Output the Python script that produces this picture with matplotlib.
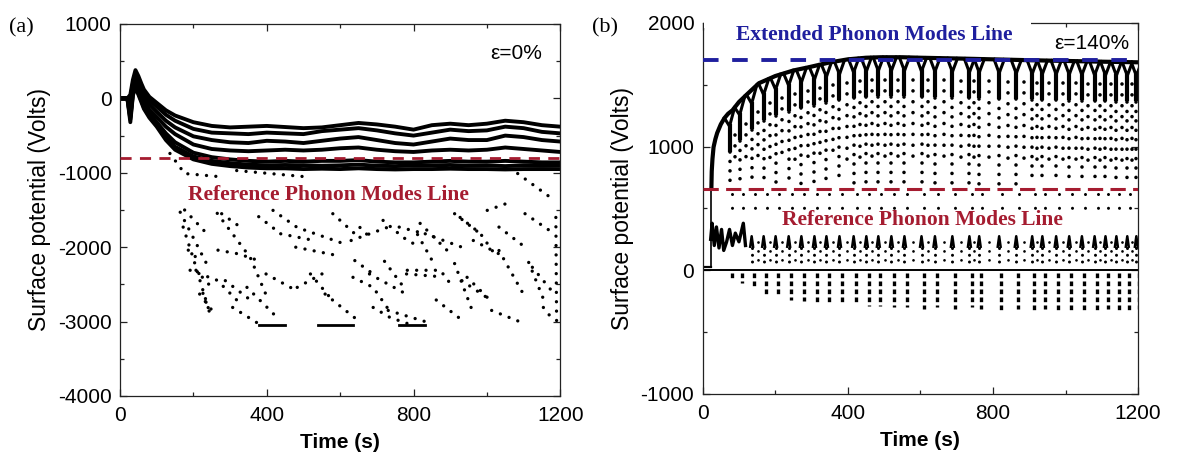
import matplotlib.pyplot as plt
import numpy as np
from matplotlib.patches import Rectangle
from matplotlib.ticker import MultipleLocator

plt.rcParams["font.family"] = ["Liberation Sans", "DejaVu Sans"]
plt.rcParams["axes.unicode_minus"] = False

RED = "#a51c30"
BLUE = "#1f1f9e"
SERIF = ["Liberation Serif", "DejaVu Serif"]

# -------------------- Panel (a): strain 0 % -------------------- #

a_time = [0, 20, 28, 35, 42, 50, 58, 65, 80, 100, 125, 150, 200, 250, 300,
          350, 400, 450, 500, 550, 600, 650, 700, 750, 800, 850, 900, 950,
          1000, 1050, 1100, 1150, 1200]
a_trace1 = [0, 0, 50, 250, 380, 300, 200, 120, 20, -60, -160, -230, -320,
            -370, -390, -380, -370, -385, -400, -390, -360, -330, -350, -380,
            -420, -360, -340, -360, -340, -300, -320, -360, -380]
a_trace2 = [0, 0, 0, 200, 320, 260, 150, 80, -20, -110, -220, -300, -410,
            -460, -470, -480, -460, -470, -480, -440, -420, -400, -430, -470,
            -500, -460, -420, -440, -430, -380, -400, -450, -470]
a_trace3 = [0, 0, -80, 150, 280, 200, 100, 20, -80, -180, -300, -390, -510,
            -560, -590, -600, -570, -580, -600, -570, -540, -520, -560, -600,
            -620, -580, -540, -560, -560, -500, -520, -560, -580]
a_trace4 = [0, 0, -150, 120, 240, 150, 50, -40, -150, -250, -380, -480, -620,
            -680, -700, -710, -700, -690, -700, -690, -670, -660, -690, -710,
            -720, -700, -690, -700, -690, -660, -680, -700, -720]
a_trace5 = [0, 0, -250, 80, 200, 100, 0, -90, -200, -320, -470, -590, -730,
            -790, -820, -840, -850, -840, -850, -840, -840, -830, -850, -860,
            -860, -850, -840, -850, -850, -840, -850, -860, -860]
a_trace6 = [0, 0, -280, 60, 170, 70, -30, -120, -240, -360, -520, -650, -780,
            -840, -870, -890, -900, -895, -900, -905, -900, -890, -905, -910,
            -900, -900, -895, -905, -900, -910, -900, -905, -900]
a_trace7 = [0, 0, -320, 40, 150, 50, -50, -140, -260, -380, -560, -690, -820,
            -880, -910, -930, -940, -940, -950, -945, -950, -940, -950, -955,
            -950, -950, -945, -950, -950, -955, -950, -950, -950]
a_ref_level = -800

# sparse sampled points left behind by the fast oscillations
a_dot_streaks = [
    [(136, -740), (176, -1010), (267, -1050)],
    [(318, -970), (499, -1050)],
    [(164, -1530), (245, -2310)],
    [(172, -1730), (199, -2140), (245, -2890)],
    [(265, -1545), (355, -2140), (401, -2675)],
    [(417, -1505), (483, -1735), (608, -1950)],
    [(191, -2310), (265, -2445), (319, -2715)],
    [(346, -2540), (401, -2810), (428, -2945)],
    [(226, -2620), (245, -2890)],
    [(483, -2540), (554, -2350)],
    [(654, -1735), (690, -1910)],
    [(717, -1640), (772, -1870), (818, -2005)],
    [(818, -1680), (892, -2045)],
    [(927, -1600), (982, -1815), (1028, -2140)],
    [(1001, -1505), (1055, -1410)],
    [(635, -2405), (690, -2540), (728, -2810)],
    [(783, -2310), (873, -2310), (908, -2540)],
    [(946, -2405), (990, -2620), (1017, -2755)],
    [(690, -2810), (736, -2945), (783, -3025)],
    [(1084, -1010), (1184, -1370)],
    [(1188, -1600), (1190, -2985)],
    [(1033, -2045), (1104, -2670)],
    [(912, -2220), (963, -2890)],
    [(1114, -2205), (1154, -2695)],
    [(811, -1830), (852, -2190)],
    [(721, -2190), (781, -2590)],
    [(862, -2710), (932, -2980)],
    [(176, -1500), (237, -1820)],
    [(186, -2040), (217, -2180)],
    [(207, -2310), (257, -2580)],
    [(217, -2630), (257, -2890)],
    [(277, -1550), (328, -1730)],
    [(267, -2040), (323, -2090), (378, -2180)],
    [(287, -2450), (358, -2720)],
    [(307, -2810), (378, -3030)],
    [(378, -1590), (438, -1820)],
    [(398, -2360), (479, -2580)],
    [(438, -1820), (529, -1910)],
    [(479, -2000), (580, -2100)],
    [(519, -2360), (580, -2720)],
    [(559, -2630), (640, -2950)],
    [(580, -1550), (640, -1820)],
    [(630, -1910), (731, -1730)],
    [(640, -2180), (690, -2360)],
    [(680, -2360), (780, -2630)],
    [(731, -2850), (832, -3000)],
    [(761, -1730), (832, -1820)],
    [(781, -2360), (882, -2400)],
    [(832, -1820), (932, -2000)],
    [(912, -1550), (982, -1820)],
    [(932, -2450), (1013, -2720)],
    [(963, -1910), (1033, -2090)],
    [(1013, -2850), (1104, -3030)],
    [(1033, -1730), (1104, -2000)],
    [(1104, -1550), (1184, -1820)],
    [(1124, -2270), (1184, -2630)],
    [(1154, -2810), (1184, -3000)],
]
a_floor_runs = [(378, 449), (539, 635), (761, 832)]
a_floor_level = -3050

# -------------------- Panel (b): strain 140 % -------------------- #

b_env_time = [24, 25, 27, 30, 35, 40, 50, 60, 70, 82, 100, 125, 155, 200,
              250, 292, 350, 400, 450, 491, 550, 600, 700, 800, 900, 1000,
              1100, 1200]
b_env_volt = [660, 800, 900, 995, 1060, 1110, 1180, 1230, 1265, 1293, 1360,
              1430, 1512, 1570, 1615, 1641, 1680, 1705, 1718, 1722, 1722,
              1718, 1712, 1705, 1698, 1692, 1686, 1681]
b_notch_time = [74, 102, 135, 168, 201, 237, 272, 308, 341, 377, 416, 451,
                484, 520, 556, 603, 640, 688, 735, 762, 817, 864, 908, 936,
                974, 1010, 1045, 1080, 1110, 1140, 1170, 1195]
b_trough_volt = [-60, -100, -150, -190, -220, -240, -250, -260, -270, -280,
                 -280, -290, -290, -300, -300, -310, -300, -310, -300, -310,
                 -320, -310, -320, -310, -320, -320, -320, -330, -310, -320,
                 -320, -310]
b_early_time = [22, 26, 32, 38, 45, 52, 58, 66, 74, 82, 90, 100, 112, 118]
b_early_volt = [250, 380, 200, 350, 180, 330, 160, 230, 330, 200, 300, 230,
                380, 200]
b_ext_level = 1700
b_ref_level = 660


def dotted(ax, t, v, gap=2.6, lw=2.6, **kw):
    ax.plot(t, v, color="k", lw=lw, ls=(0, (0.01, gap)),
            dash_capstyle="round", **kw)


def style_axes(ax, ymin, ymax):
    ax.set_xlim(0, 1200)
    ax.set_ylim(ymin, ymax)
    ax.xaxis.set_major_locator(MultipleLocator(400))
    ax.xaxis.set_minor_locator(MultipleLocator(200))
    ax.yaxis.set_major_locator(MultipleLocator(1000))
    ax.yaxis.set_minor_locator(MultipleLocator(500))
    ax.tick_params(which="both", direction="in", top=True, right=True,
                   labelsize=15, color="#222222", width=0.9)
    ax.tick_params(which="major", length=5)
    ax.tick_params(which="minor", length=3)
    ax.tick_params(axis="x", pad=7)
    ax.tick_params(axis="y", pad=6)
    for sp in ax.spines.values():
        sp.set_linewidth(0.9)
        sp.set_color("#222222")
    ax.set_xlabel("Time (s)", fontsize=15, fontweight="bold", labelpad=6)
    ax.set_ylabel("Surface potential (Volts)", fontsize=16.5, labelpad=5)


fig = plt.figure(figsize=(11.77, 4.57), dpi=100)
ax_a = fig.add_axes([0.102, 0.1335, 0.374, 0.814])
ax_b = fig.add_axes([0.597, 0.138, 0.370, 0.812])

# ---- panel (a) ----
for trace in [a_trace1, a_trace2, a_trace3, a_trace4, a_trace5, a_trace6,
              a_trace7]:
    ax_a.plot(a_time, trace, color="k", lw=2.8, solid_joinstyle="round")
for streak in a_dot_streaks:
    ts, vs = zip(*streak)
    dotted(ax_a, ts, vs, gap=2.8, lw=2.4)
for t0, t1 in a_floor_runs:
    ax_a.plot([t0, t1], [a_floor_level, a_floor_level], color="k", lw=2.0)
ax_a.axhline(a_ref_level, color=RED, lw=2.0, dashes=(4, 3), zorder=5)
ax_a.text(567, -1300, "Reference Phonon Modes Line", color=RED,
          family=SERIF, fontweight="bold", fontsize=15.5, ha="center",
          va="center", zorder=6)
ax_a.text(1150, 600, "\u03b5=0%", fontsize=15, ha="right", va="center")
style_axes(ax_a, -4000, 1000)
fig.text(0.008, 0.94, "(a)", family=SERIF, fontsize=16, va="center")

# ---- panel (b) ----
ax_b.axhline(0, color="k", lw=1.4)
ax_b.plot([0, 24], [30, 30], color="k", lw=1.6)
ax_b.plot([24, 24], [660, 30], color="k", lw=1.2)
ax_b.plot(b_env_time, b_env_volt, color="k", lw=3.0)
ax_b.plot(b_early_time, b_early_volt, color="k", lw=2.4)

for i, (T, low) in enumerate(zip(b_notch_time, b_trough_volt)):
    top = np.interp(T, b_env_time, b_env_volt)
    left = np.interp(T - 14, b_env_time, b_env_volt)
    right = np.interp(T + 14, b_env_time, b_env_volt)
    ax_b.plot([T - 14, T, T + 14], [left, top - 110, right], color="k",
              lw=2.2)
    ax_b.plot([T, T], [top - 110, top - 300], color="k", lw=3.0)
    dotted(ax_b, [T, T], [top - 320, 700])
    if i + 1 < len(b_notch_time):
        mid = 0.5 * (T + b_notch_time[i + 1])
        dotted(ax_b, [mid, mid], [top - 180, 880], gap=3.0)
        if T >= 135:
            dotted(ax_b, [mid, mid], [230, 30], gap=3.2, lw=2.0)
    dotted(ax_b, [T + 8, T + 8], [620, 480], gap=4.5, lw=2.2)
    if T >= 135:
        ax_b.plot([T - 4, T, T + 4], [190, 275, 190], color="k", lw=1.8)
        dotted(ax_b, [T, T], [180, 20], gap=2.2, lw=2.2)
    ax_b.plot([T + 6, T + 6], [-25, low], color="k", lw=2.4,
              dashes=(1.4, 1.0))

ax_b.axhline(b_ext_level, color=BLUE, lw=2.8, dashes=(4, 3.5), zorder=5)
ax_b.axhline(b_ref_level, color=RED, lw=2.2, dashes=(5, 2.4), zorder=5)
style_axes(ax_b, -1000, 2000)
ax_b.add_patch(Rectangle((0.004, 0.985), 0.751, 0.03,
                         transform=ax_b.transAxes, facecolor="white",
                         edgecolor="none", clip_on=False, zorder=3))
ax_b.text(473, 1900, "Extended Phonon Modes Line", color=BLUE, family=SERIF,
          fontweight="bold", fontsize=15.5, ha="center", va="center",
          zorder=6)
ax_b.text(1175, 1835, "\u03b5=140%", fontsize=15, ha="right", va="center")
ax_b.text(606, 404, "Reference Phonon Modes Line", color=RED, family=SERIF,
          fontweight="bold", fontsize=15.5, ha="center", va="center",
          zorder=6)
fig.text(0.503, 0.94, "(b)", family=SERIF, fontsize=16, va="center")

fig.savefig("out.png", dpi=100)
